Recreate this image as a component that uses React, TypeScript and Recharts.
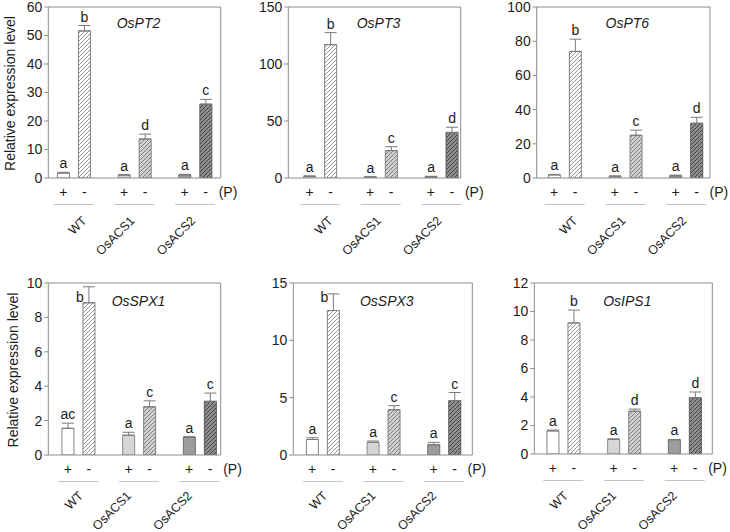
import React from "react";
import { BarChart, Bar, XAxis, YAxis, Cell, ErrorBar, LabelList, Label, CartesianGrid } from "recharts";

// ---------- data ----------
const categories = ["WT", "OsACS1", "OsACS2"];
const pLabels = ["+", "-"];
const pTitle = "(P)";
const yTitle = "Relative expression level";

const osPT2Plus = [1.7, 1.0, 1.1];
const osPT2PlusErr = [0.3, 0.2, 0.2];
const osPT2Minus = [51.6, 13.7, 25.9];
const osPT2MinusErr = [1.9, 1.7, 1.7];
const osPT2PlusLetters = ["a", "a", "a"];
const osPT2MinusLetters = ["b", "d", "c"];
const osPT2Ticks = [0, 10, 20, 30, 40, 50, 60];

const osPT3Plus = [1.5, 0.9, 1.2];
const osPT3PlusErr = [0.3, 0.2, 0.3];
const osPT3Minus = [117, 24, 40];
const osPT3MinusErr = [10.5, 3.5, 4.5];
const osPT3PlusLetters = ["a", "a", "a"];
const osPT3MinusLetters = ["b", "c", "d"];
const osPT3Ticks = [0, 50, 100, 150];

const osPT6Plus = [1.8, 1.0, 1.3];
const osPT6PlusErr = [0.3, 0.2, 0.4];
const osPT6Minus = [74, 25, 32];
const osPT6MinusErr = [7.2, 3, 3.5];
const osPT6PlusLetters = ["a", "a", "a"];
const osPT6MinusLetters = ["b", "c", "d"];
const osPT6Ticks = [0, 20, 40, 60, 80, 100];

const osSPX1Plus = [1.55, 1.15, 1.02];
const osSPX1PlusErr = [0.3, 0.17, 0.05];
const osSPX1Minus = [8.85, 2.8, 3.12];
const osSPX1MinusErr = [0.93, 0.35, 0.48];
const osSPX1PlusLetters = ["ac", "a", "a"];
const osSPX1MinusLetters = ["b", "c", "c"];
const osSPX1Ticks = [0, 2, 4, 6, 8, 10];

const osSPX3Plus = [1.35, 1.1, 0.9];
const osSPX3PlusErr = [0.15, 0.12, 0.2];
const osSPX3Minus = [12.6, 3.95, 4.75];
const osSPX3MinusErr = [1.45, 0.35, 0.7];
const osSPX3PlusLetters = ["a", "a", "a"];
const osSPX3MinusLetters = ["b", "c", "c"];
const osSPX3Ticks = [0, 5, 10, 15];

const osIPS1Plus = [1.62, 1.03, 1.0];
const osIPS1PlusErr = [0.06, 0.03, 0.02];
const osIPS1Minus = [9.2, 3.0, 3.95];
const osIPS1MinusErr = [0.9, 0.15, 0.4];
const osIPS1PlusLetters = ["a", "a", "a"];
const osIPS1MinusLetters = ["b", "d", "d"];
const osIPS1Ticks = [0, 2, 4, 6, 8, 10, 12];

const panels = [
  { gene: "OsPT2", plus: osPT2Plus, plusErr: osPT2PlusErr, minus: osPT2Minus, minusErr: osPT2MinusErr, plusLetters: osPT2PlusLetters, minusLetters: osPT2MinusLetters, ticks: osPT2Ticks },
  { gene: "OsPT3", plus: osPT3Plus, plusErr: osPT3PlusErr, minus: osPT3Minus, minusErr: osPT3MinusErr, plusLetters: osPT3PlusLetters, minusLetters: osPT3MinusLetters, ticks: osPT3Ticks },
  { gene: "OsPT6", plus: osPT6Plus, plusErr: osPT6PlusErr, minus: osPT6Minus, minusErr: osPT6MinusErr, plusLetters: osPT6PlusLetters, minusLetters: osPT6MinusLetters, ticks: osPT6Ticks },
  { gene: "OsSPX1", plus: osSPX1Plus, plusErr: osSPX1PlusErr, minus: osSPX1Minus, minusErr: osSPX1MinusErr, plusLetters: osSPX1PlusLetters, minusLetters: osSPX1MinusLetters, ticks: osSPX1Ticks },
  { gene: "OsSPX3", plus: osSPX3Plus, plusErr: osSPX3PlusErr, minus: osSPX3Minus, minusErr: osSPX3MinusErr, plusLetters: osSPX3PlusLetters, minusLetters: osSPX3MinusLetters, ticks: osSPX3Ticks },
  { gene: "OsIPS1", plus: osIPS1Plus, plusErr: osIPS1PlusErr, minus: osIPS1Minus, minusErr: osIPS1MinusErr, plusLetters: osIPS1PlusLetters, minusLetters: osIPS1MinusLetters, ticks: osIPS1Ticks },
];

// ---------- layout / style ----------
const FONT = "'Liberation Sans', Arial, sans-serif";
const TEXT = "#1c1c1c";
const FRAME = "#8c8c8c";
const FS = 14;
const LABEL_FS = 12.5;
const BAR_SIZE = 12;
const BAR_GAP = 9;
const BAND = 60.7;
const labelCatDx = [12.5, 0, 0];

const plusFills = ["#ffffff", "#d6d6d6", "#9c9c9c"];
const plusStrokes = ["#808080", "#8a8a8a", "#6e6e6e"];
const hatchBg = ["#ffffff", "#d0d0d0", "#8e8e8e"];
const hatchLine = ["#8a8a8a", "#787878", "#3c3c3c"];
const minusStrokes = ["#808080", "#808080", "#5a5a5a"];

const layouts = [
  { left: 0, top: 0, w: 250, h: 260, axisX: 48.3, rightX: 220.7, plotTop: 7, plotBottom: 178, c0: 25.5, titleDy: 21, yTitleX: 10, labelDx: 1, labelDy: 41.5 },
  { left: 240, top: 0, w: 250, h: 260, axisX: 288.3, rightX: 460.7, plotTop: 7, plotBottom: 178, c0: 31.7, titleDy: 21, labelDx: 1, labelDy: 41.5 },
  { left: 480, top: 0, w: 250, h: 260, axisX: 536.7, rightX: 710, plotTop: 7, plotBottom: 178, c0: 28, titleDy: 21, labelDx: 1, labelDy: 41.5 },
  { left: 0, top: 260, w: 250, h: 272, axisX: 48.3, rightX: 220.7, plotTop: 283, plotBottom: 455, c0: 30, titleDy: 23, yTitleX: 13, labelDx: -7, labelDy: 39.5 },
  { left: 240, top: 260, w: 250, h: 272, axisX: 293.3, rightX: 472.3, plotTop: 283, plotBottom: 455, c0: 29.4, titleDy: 23, labelDx: -7, labelDy: 39.5 },
  { left: 480, top: 260, w: 250, h: 272, axisX: 534.3, rightX: 712.3, plotTop: 283, plotBottom: 454, c0: 29, titleDy: 23, labelDx: -7, labelDy: 40.5 },
];

const makeTick = (labelDx: number, labelDy: number) => (props: any) => {
  const { x, y, payload } = props;
  const i = typeof props.index === "number" ? props.index : payload.index;
  const half = (BAR_SIZE + BAR_GAP) / 2;
  const common = { fontSize: FS, fontFamily: FONT, fill: TEXT };
  const ex = x + labelDx + (labelCatDx[i] || 0);
  return (
    <g>
      <text x={x - half} y={y + 17} textAnchor="middle" {...common}>{pLabels[0]}</text>
      <text x={x + half} y={y + 17} textAnchor="middle" {...common}>{pLabels[1]}</text>
      <line x1={x - 20} x2={x + 20} y1={y + 24.5} y2={y + 24.5} stroke="#c4c4c4" strokeWidth={1} />
      <text
        transform={`translate(${ex},${y + labelDy}) rotate(-45)`}
        textAnchor="end"
        fontSize={LABEL_FS}
        fontFamily={FONT}
        fill={TEXT}
      >
        {payload.value}
      </text>
      {i === categories.length - 1 && (
        <text x={x + half + 13} y={y + 17} textAnchor="start" {...common}>{pTitle}</text>
      )}
    </g>
  );
};

const makeLetter = (vals: number[], errs: number[], letters: string[], plotTop: number) => (props: any) => {
  const vb = props.viewBox && typeof props.viewBox.x === "number" ? props.viewBox : props;
  const { x, y, width, height } = vb;
  const i = props.index;
  const v = vals[i];
  const e = errs[i];
  const ppu = v > 0 ? height / v : 0;
  const errTop = y - e * ppu;
  let cx = x + width / 2;
  let by = errTop - 4;
  if (by - 10 < plotTop) {
    cx -= 9;
    by = plotTop + 19;
  }
  return (
    <text x={cx} y={by} textAnchor="middle" fontSize={FS} fontFamily={FONT} fill={TEXT}>
      {letters[i]}
    </text>
  );
};

function Panel({ idx }: { idx: number }) {
  const p = panels[idx];
  const L = layouts[idx];
  const data = categories.map((name, i) => ({
    name,
    plus: p.plus[i],
    minus: p.minus[i],
    plusErr: [0, p.plusErr[i]],
    minusErr: [0, p.minusErr[i]],
  }));
  const plotW = L.rightX - L.axisX;
  const padL = L.c0 - BAND / 2;
  const padR = plotW - padL - BAND * categories.length;
  const yw = L.axisX - L.left;
  const mTop = L.plotTop - L.top;
  const mRight = L.left + L.w - L.rightX;
  const xh = L.top + L.h - L.plotBottom;
  const ymax = p.ticks[p.ticks.length - 1];

  return (
    <div style={{ position: "absolute", left: L.left, top: L.top, width: L.w, height: L.h }}>
      <BarChart
        width={L.w}
        height={L.h}
        data={data}
        margin={{ top: mTop, right: mRight, bottom: 0, left: 0 }}
        barGap={BAR_GAP}
      >
        <CartesianGrid
          stroke={FRAME}
          strokeWidth={1}
          horizontalPoints={[mTop]}
          verticalPoints={[L.w - mRight]}
        />
        <XAxis
          dataKey="name"
          interval={0}
          tickLine={false}
          tickSize={0}
          height={xh}
          axisLine={{ stroke: FRAME }}
          tick={makeTick(L.labelDx, L.labelDy)}
          padding={{ left: padL, right: padR }}
        />
        <YAxis
          domain={[0, ymax]}
          ticks={p.ticks}
          interval={0}
          width={yw}
          tickSize={4}
          tickMargin={2}
          allowDataOverflow
          axisLine={{ stroke: FRAME }}
          tickLine={{ stroke: FRAME }}
          tick={{ fontSize: FS, fill: TEXT, fontFamily: FONT }}
        >
          <Label
            content={(lp: any) => {
              const vb = lp.viewBox;
              const cx = vb.x + vb.width + plotW / 2 + 4;
              const cy = vb.y + L.titleDy;
              return (
                <text x={cx} y={cy} textAnchor="middle" fontStyle="italic" fontSize={FS} fontFamily={FONT} fill={TEXT}>
                  {p.gene}
                </text>
              );
            }}
          />
          {L.yTitleX !== undefined && (
            <Label
              content={(lp: any) => {
                const vb = lp.viewBox;
                const cx = L.yTitleX as number;
                const cy = vb.y + vb.height / 2 + 1;
                return (
                  <text
                    transform={`translate(${cx},${cy}) rotate(-90)`}
                    textAnchor="middle"
                    dominantBaseline="central"
                    fontSize={FS}
                    fontFamily={FONT}
                    fill={TEXT}
                  >
                    {yTitle}
                  </text>
                );
              }}
            />
          )}
        </YAxis>
        <Bar dataKey="plus" barSize={BAR_SIZE} isAnimationActive={false}>
          {data.map((d, i) => (
            <Cell key={d.name} fill={plusFills[i]} stroke={plusStrokes[i]} strokeWidth={1} />
          ))}
          <ErrorBar dataKey="plusErr" width={6} stroke="#7a7a7a" strokeWidth={1} direction="y" />
          <LabelList dataKey="plus" content={makeLetter(p.plus, p.plusErr, p.plusLetters, mTop)} />
        </Bar>
        <Bar dataKey="minus" barSize={BAR_SIZE} isAnimationActive={false}>
          {data.map((d, i) => (
            <Cell key={d.name} fill={`url(#hatch${i})`} stroke={minusStrokes[i]} strokeWidth={1} />
          ))}
          <ErrorBar dataKey="minusErr" width={6} stroke="#7a7a7a" strokeWidth={1} direction="y" />
          <LabelList dataKey="minus" content={makeLetter(p.minus, p.minusErr, p.minusLetters, mTop)} />
        </Bar>
      </BarChart>
    </div>
  );
}

export default function App() {
  return (
    <div
      style={{
        position: "absolute",
        left: 0,
        top: 0,
        width: 730,
        height: 532,
        background: "#ffffff",
        overflow: "hidden",
      }}
    >
      <svg width={0} height={0} style={{ position: "absolute" }}>
        <defs>
          {hatchBg.map((bg, i) => (
            <pattern key={i} id={`hatch${i}`} patternUnits="userSpaceOnUse" width={4} height={4}>
              <rect width={4} height={4} fill={bg} />
              <path d="M-1,1 l2,-2 M0,4 l4,-4 M3,5 l2,-2" stroke={hatchLine[i]} strokeWidth={0.9} />
            </pattern>
          ))}
        </defs>
      </svg>
      {panels.map((_, i) => (
        <Panel key={i} idx={i} />
      ))}
    </div>
  );
}
